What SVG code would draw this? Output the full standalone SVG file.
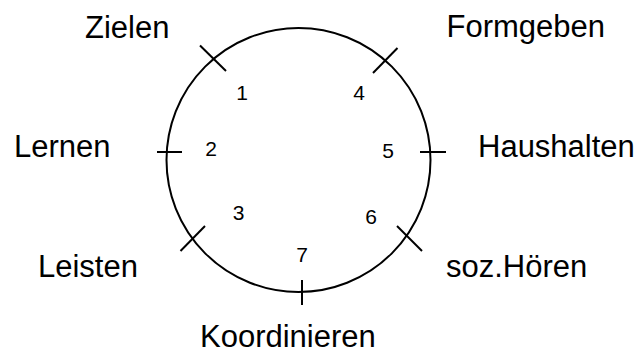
<svg xmlns="http://www.w3.org/2000/svg" width="641" height="354" viewBox="0 0 641 354">
<style>
.ln{stroke:#000;stroke-width:2;fill:none}
.lbl{font-family:"Liberation Sans",Arial,sans-serif;font-size:31px;fill:#000}
.num{font-family:"Liberation Sans",Arial,sans-serif;font-size:21px;fill:#000;text-anchor:middle}
</style>
<rect width="641" height="354" fill="#fff"/>
<g id="circle"><circle class="ln" cx="298.5" cy="160" r="132"/></g>
<g id="ticks">
<line class="ln" x1="200" y1="45.5" x2="226" y2="71"/>
<line class="ln" x1="397.5" y1="48" x2="373" y2="73"/>
<line class="ln" x1="157" y1="152" x2="182" y2="152"/>
<line class="ln" x1="420" y1="152" x2="446" y2="152"/>
<line class="ln" x1="205" y1="226" x2="180.5" y2="251"/>
<line class="ln" x1="397" y1="226" x2="422" y2="251"/>
<line class="ln" x1="302" y1="280" x2="302" y2="305"/>
</g>
<g id="n1"><text class="num" x="242" y="100">1</text><text class="lbl" x="85" y="38">Zielen</text></g>
<g id="n2"><text class="num" x="211" y="156">2</text><text class="lbl" x="14" y="157">Lernen</text></g>
<g id="n3"><text class="num" x="238.5" y="220">3</text><text class="lbl" x="38" y="277">Leisten</text></g>
<g id="n4"><text class="num" x="359" y="100">4</text><text class="lbl" x="446.5" y="37">Formgeben</text></g>
<g id="n5"><text class="num" x="388" y="158">5</text><text class="lbl" x="478" y="157">Haushalten</text></g>
<g id="n6"><text class="num" x="371" y="224">6</text><text class="lbl" x="446" y="277">soz.Hören</text></g>
<g id="n7"><text class="num" x="302" y="262">7</text><text class="lbl" x="200" y="347">Koordinieren</text></g>
</svg>
